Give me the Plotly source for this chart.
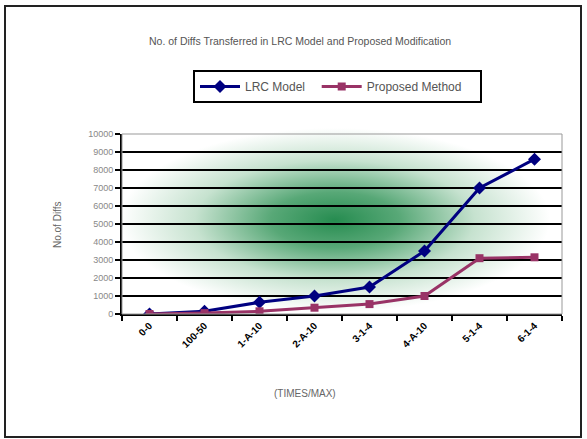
import base64
import plotly.graph_objects as go

categories = ["0-0", "100-50", "1-A-10", "2-A-10", "3-1-4", "4-A-10", "5-1-4", "6-1-4"]
lrc_model = [0, 150, 650, 1000, 1500, 3500, 7000, 8600]
proposed_method = [0, 50, 150, 350, 550, 1000, 3100, 3150]
y_ticks = list(range(0, 10001, 1000))

W, H = 587, 439
L, R, T, B = 122, 25, 134, 125
PW, PH = W - L - R, H - T - B

def px_x(px):
    return (px - L) / PW

def px_y(py):
    return (H - B - py) / PH

svg = (
    '<svg xmlns="http://www.w3.org/2000/svg" width="200" height="100" viewBox="0 0 200 100" '
    'preserveAspectRatio="none"><defs><radialGradient id="g" cx="0.5" cy="0.5" r="0.5">'
    '<stop offset="0" stop-color="#268c50"/><stop offset="0.3" stop-color="#58a877"/>'
    '<stop offset="0.65" stop-color="#c6e2cf"/><stop offset="1" stop-color="#ffffff"/>'
    '</radialGradient></defs><rect width="200" height="100" fill="url(#g)"/></svg>'
)
src = "data:image/svg+xml;base64," + base64.b64encode(svg.encode()).decode()

NB = "\u00a0"
fig = go.Figure()
fig.add_trace(go.Scatter(
    x=categories, y=lrc_model, name="LRC Model" + NB * 2, mode="lines+markers",
    line=dict(color="#000080", width=3),
    marker=dict(symbol="diamond", size=10, color="#000080"),
))
fig.add_trace(go.Scatter(
    x=categories, y=proposed_method, name="Proposed Method" + NB * 4, mode="lines+markers",
    line=dict(color="#993366", width=3),
    marker=dict(symbol="square", size=8, color="#993366"),
))

cx, cy, rx, ry = 335, 220, 215, 92
fig.add_layout_image(dict(
    source=src, xref="paper", yref="paper",
    x=px_x(cx - rx), y=px_y(cy - ry), sizex=2 * rx / PW, sizey=2 * ry / PH,
    xanchor="left", yanchor="top", sizing="stretch", layer="below",
))

fig.update_layout(
    width=W, height=H,
    margin=dict(l=L, r=R, t=T, b=B),
    paper_bgcolor="white", plot_bgcolor="white",
    font=dict(family="Liberation Sans, Arial, sans-serif", color="#555"),
    showlegend=True,
    legend=dict(
        orientation="h", x=px_x(193), y=px_y(70), xanchor="left", yanchor="top",
        bordercolor="black", borderwidth=2, bgcolor="white",
        font=dict(size=12, color="#555"), itemwidth=40,
    ),
    xaxis=dict(
        type="category", range=[-0.5, 7.5], tickson="boundaries",
        ticks="outside", ticklen=5, tickcolor="black", tickwidth=1.5,
        showline=True, linecolor="black", linewidth=2, showgrid=False,
        tickangle=-45, tickfont=dict(size=10, color="black", family="Liberation Sans, Arial", weight="bold"),
    ),
    yaxis=dict(
        range=[0, 10000], tickvals=y_ticks, tickformat="d", ticks="outside", ticklen=5,
        tickcolor="black", tickwidth=1.5,
        showline=True, linecolor="black", linewidth=2,
        showgrid=True, gridcolor="black", gridwidth=1.5, zeroline=False,
        tickfont=dict(size=9, color="#888"),
    ),
    shapes=[
        dict(type="rect", xref="paper", yref="paper", x0=0, x1=1, y0=0, y1=1,
             line=dict(color="#999", width=1), layer="above"),
        dict(type="rect", xref="paper", yref="paper",
             x0=px_x(5), x1=px_x(581), y0=px_y(437), y1=px_y(6),
             line=dict(color="#222", width=2)),
    ],
    annotations=[
        dict(text="No. of Diffs Transferred in LRC Model and Proposed Modification",
             xref="paper", yref="paper", x=px_x(300), y=px_y(41), showarrow=False,
             xanchor="center", yanchor="middle", font=dict(size=10.5, color="#555")),
        dict(text="No.of Diffs", xref="paper", yref="paper", x=px_x(57), y=px_y(225),
             showarrow=False, textangle=-90, xanchor="center", yanchor="middle",
             font=dict(size=10, color="#666")),
        dict(text="(TIMES/MAX)", xref="paper", yref="paper", x=px_x(305), y=px_y(393),
             showarrow=False, xanchor="center", yanchor="middle",
             font=dict(size=10, color="#666")),
    ],
)

fig.write_html("out.html", config={"displayModeBar": False},
               post_script="document.body.style.margin='0';")
